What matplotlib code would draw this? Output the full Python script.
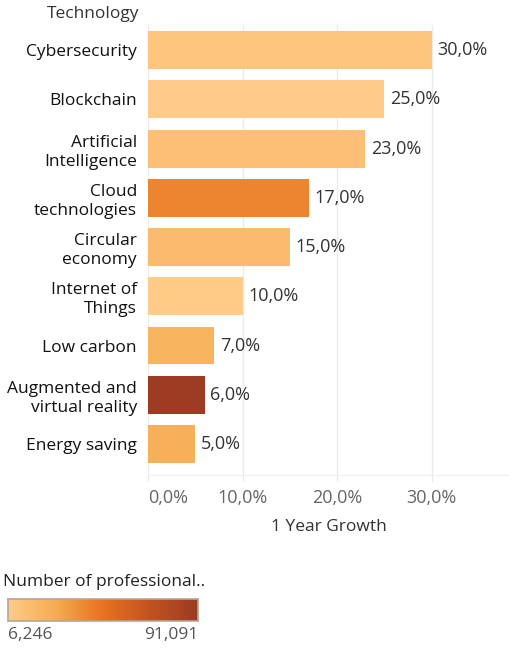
import matplotlib.pyplot as plt
import numpy as np
from matplotlib.colors import LinearSegmentedColormap, Normalize

plt.rcParams['font.family'] = ['Open Sans', 'DejaVu Sans']

# data
technologies = ['Cybersecurity', 'Blockchain', 'Artificial\nIntelligence', 'Cloud\ntechnologies',
                'Circular\neconomy', 'Internet of\nThings', 'Low carbon',
                'Augmented and\nvirtual reality', 'Energy saving']
growth = [30.0, 25.0, 23.0, 17.0, 15.0, 10.0, 7.0, 6.0, 5.0]
professionals = [11000, 6246, 14500, 42000, 17000, 6800, 23000, 91091, 25000]
xticks = [0, 10, 20, 30]

cmap = LinearSegmentedColormap.from_list('orange', ['#FFCB8A', '#F6AC53', '#E8721F', '#C2531F', '#9C3B22'])
norm = Normalize(vmin=6246, vmax=91091)

fig = plt.figure(figsize=(5.09, 6.48), dpi=100)
ax = fig.add_axes([148 / 509, 1 - 475 / 648, 1 - 148 / 509, 450 / 648])

y = np.arange(len(technologies))
colors = [cmap(norm(v)) for v in professionals]
ax.barh(y, growth, height=0.77, color=colors, zorder=2)
ax.set_ylim(8.63, -0.51)
ax.set_xlim(0, 38.2)

for yi, g in zip(y, growth):
    ax.text(g + 0.6, yi, f'{g:.1f}%'.replace('.', ','), va='center', ha='left',
            fontsize=13, color='#333333')

ax.set_yticks(y)
ax.set_yticklabels(technologies, fontsize=12.5, color='#111111', linespacing=1.25)
ax.tick_params(axis='y', length=0, pad=8)

ax.set_xticks(xticks)
ax.set_xticklabels([f'{t:.1f}%'.replace('.', ',') for t in xticks], fontsize=13, color='#666666')
ax.get_xticklabels()[0].set_ha('left')
ax.tick_params(axis='x', length=4, color='#e6e6e6', pad=6)
ax.grid(axis='x', color='#ebebeb', linewidth=1, zorder=0)
for s in ['top', 'right', 'left']:
    ax.spines[s].set_visible(False)
ax.spines['bottom'].set_color('#eeeeee')
ax.set_xlabel('1 Year Growth', fontsize=12.5, color='#333333', labelpad=9)

fig.text(139 / 509, 1 - 14 / 648, 'Technology', ha='right', va='center', fontsize=12.5, color='#333333')

# legend
fig.text(3 / 509, 1 - 582 / 648, 'Number of professional..', ha='left', va='center', fontsize=12.5, color='#222222')
cax = fig.add_axes([8 / 509, 1 - 621 / 648, 190 / 509, 22 / 648])
cax.imshow(np.linspace(0, 1, 256).reshape(1, -1), aspect='auto', cmap=cmap)
cax.set_xticks([])
cax.set_yticks([])
for s in cax.spines.values():
    s.set_color('#b0a89c')
    s.set_linewidth(1.2)
fig.text(8 / 509, 1 - 635 / 648, '6,246', ha='left', va='center', fontsize=12.5, color='#555555')
fig.text(198 / 509, 1 - 635 / 648, '91,091', ha='right', va='center', fontsize=12.5, color='#555555')

fig.savefig('out.png', dpi=100)
